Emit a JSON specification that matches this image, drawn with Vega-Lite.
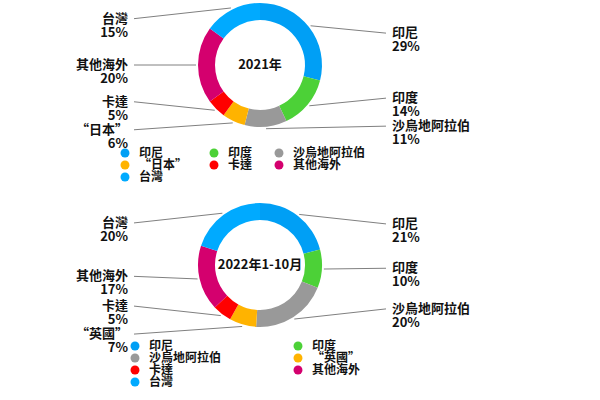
{
  "$schema": "https://vega.github.io/schema/vega-lite/v6.json",
  "description": "Two donut charts, 2021 and 2022 Jan-Oct shares by source",
  "background": "white",
  "padding": {"left": 5, "top": 0, "right": 5, "bottom": 5},
  "bounds": "flush",
  "spacing": 70,
  "config": {
    "font": "Noto Sans CJK TC",
    "view": {"stroke": null},
    "text": {"fontWeight": "bold"},
    "legend": {"labelFont": "Noto Sans CJK TC", "labelFontSize": 12, "labelFontWeight": "bold", "labelColor": "#111", "symbolType": "circle", "symbolSize": 80, "symbolStrokeWidth": 0, "rowPadding": 0, "labelOffset": 8, "direction": "horizontal"}
  },
  "resolve": {
    "scale": {"color": "independent", "x": "independent", "y": "independent", "theta": "independent"},
    "legend": {"color": "independent"}
  },
  "vconcat": [
    {
      "width": 510,
      "height": 130,
      "data": {"values": [
        {"i": 1, "k": "印尼", "v": 29},
        {"i": 2, "k": "印度", "v": 14},
        {"i": 3, "k": "沙烏地阿拉伯", "v": 11},
        {"i": 4, "k": "“日本”", "v": 6},
        {"i": 5, "k": "卡達", "v": 5},
        {"i": 6, "k": "其他海外", "v": 20},
        {"i": 7, "k": "台灣", "v": 15}
      ]},
      "transform": [
        {"stack": "v", "groupby": [], "sort": [{"field": "i", "order": "ascending"}], "as": ["v0", "v1"]},
        {"calculate": "(datum.v0 + datum.v1) / 2", "as": "mid"},
        {"calculate": "2 * PI * datum.mid / 100", "as": "a"},
        {"calculate": "datum.mid < 50 ? 1 : -1", "as": "side"},
        {"calculate": "sin(datum.a) * 64", "as": "ex"},
        {"calculate": "-cos(datum.a) * 64", "as": "ey"},
        {"calculate": "-cos(datum.a) * 52", "as": "ly"},
        {"window": [{"op": "lag", "field": "ly", "as": "prev"}], "groupby": ["side"], "sort": [{"field": "ly", "order": "ascending"}]},
        {"calculate": "isValid(datum.prev) ? max(datum.ly, datum.prev + 28) : datum.ly", "as": "ly2"},
        {"calculate": "datum.side * 126", "as": "lx"},
        {"calculate": "datum.side * 132", "as": "tx"},
        {"calculate": "datum.k + '\\n' + datum.v + '%'", "as": "label"}
      ],
      "layer": [
        {
          "mark": {"type": "rule", "color": "#808080", "strokeWidth": 1},
          "encoding": {
            "x": {"field": "ex", "type": "quantitative", "scale": {"domain": [-255, 255]}, "axis": null},
            "y": {"field": "ey", "type": "quantitative", "scale": {"domain": [-65, 65], "reverse": true}, "axis": null},
            "x2": {"field": "lx"},
            "y2": {"field": "ly2"}
          }
        },
        {
          "mark": {"type": "arc", "outerRadius": 62, "innerRadius": 45},
          "encoding": {
            "theta": {"field": "v0", "type": "quantitative", "scale": {"domain": [0, 100]}},
            "theta2": {"field": "v1"},
            "color": {
              "field": "k",
              "type": "nominal",
              "sort": null,
              "scale": {
                "domain": ["印尼", "印度", "沙烏地阿拉伯", "“日本”", "卡達", "其他海外", "台灣"],
                "range": ["#009ff5", "#4cd137", "#999999", "#ffb300", "#ff0000", "#d4006e", "#00aaff"]
              },
              "legend": {"title": null, "orient": "none", "legendX": 114, "legendY": 147, "columns": 3, "columnPadding": 20}
            }
          }
        },
        {
          "transform": [{"filter": "datum.side > 0"}],
          "mark": {"type": "text", "align": "left", "baseline": "middle", "lineBreak": "\n", "fontSize": 13, "lineHeight": 14, "color": "#111"},
          "encoding": {
            "x": {"field": "tx", "type": "quantitative", "scale": {"domain": [-255, 255]}, "axis": null},
            "y": {"field": "ly2", "type": "quantitative", "scale": {"domain": [-65, 65], "reverse": true}, "axis": null},
            "text": {"field": "label"}
          }
        },
        {
          "transform": [{"filter": "datum.side < 0"}],
          "mark": {"type": "text", "align": "right", "baseline": "middle", "lineBreak": "\n", "fontSize": 13, "lineHeight": 14, "color": "#111"},
          "encoding": {
            "x": {"field": "tx", "type": "quantitative", "scale": {"domain": [-255, 255]}, "axis": null},
            "y": {"field": "ly2", "type": "quantitative", "scale": {"domain": [-65, 65], "reverse": true}, "axis": null},
            "text": {"field": "label"}
          }
        },
        {
          "data": {"values": [{"t": "2021年"}]},
          "mark": {"type": "text", "fontSize": 13, "color": "#111"},
          "encoding": {"text": {"field": "t"}}
        }
      ]
    },
    {
      "width": 510,
      "height": 130,
      "data": {"values": [
        {"i": 1, "k": "印尼", "v": 21},
        {"i": 2, "k": "印度", "v": 10},
        {"i": 3, "k": "沙烏地阿拉伯", "v": 20},
        {"i": 4, "k": "“英國”", "v": 7},
        {"i": 5, "k": "卡達", "v": 5},
        {"i": 6, "k": "其他海外", "v": 17},
        {"i": 7, "k": "台灣", "v": 20}
      ]},
      "transform": [
        {"stack": "v", "groupby": [], "sort": [{"field": "i", "order": "ascending"}], "as": ["v0", "v1"]},
        {"calculate": "(datum.v0 + datum.v1) / 2", "as": "mid"},
        {"calculate": "2 * PI * datum.mid / 100", "as": "a"},
        {"calculate": "datum.mid < 50 ? 1 : -1", "as": "side"},
        {"calculate": "sin(datum.a) * 64", "as": "ex"},
        {"calculate": "-cos(datum.a) * 64", "as": "ey"},
        {"calculate": "-cos(datum.a) * 52", "as": "ly"},
        {"window": [{"op": "lag", "field": "ly", "as": "prev"}], "groupby": ["side"], "sort": [{"field": "ly", "order": "ascending"}]},
        {"calculate": "isValid(datum.prev) ? max(datum.ly, datum.prev + 28) : datum.ly", "as": "ly2"},
        {"calculate": "datum.side * 126", "as": "lx"},
        {"calculate": "datum.side * 132", "as": "tx"},
        {"calculate": "datum.k + '\\n' + datum.v + '%'", "as": "label"}
      ],
      "layer": [
        {
          "mark": {"type": "rule", "color": "#808080", "strokeWidth": 1},
          "encoding": {
            "x": {"field": "ex", "type": "quantitative", "scale": {"domain": [-255, 255]}, "axis": null},
            "y": {"field": "ey", "type": "quantitative", "scale": {"domain": [-65, 65], "reverse": true}, "axis": null},
            "x2": {"field": "lx"},
            "y2": {"field": "ly2"}
          }
        },
        {
          "mark": {"type": "arc", "outerRadius": 62, "innerRadius": 45},
          "encoding": {
            "theta": {"field": "v0", "type": "quantitative", "scale": {"domain": [0, 100]}},
            "theta2": {"field": "v1"},
            "color": {
              "field": "k",
              "type": "nominal",
              "sort": null,
              "scale": {
                "domain": ["印尼", "印度", "沙烏地阿拉伯", "“英國”", "卡達", "其他海外", "台灣"],
                "range": ["#009ff5", "#4cd137", "#999999", "#ffb300", "#ff0000", "#d4006e", "#00aaff"]
              },
              "legend": {"title": null, "orient": "none", "legendX": 124, "legendY": 140, "columns": 2, "columnPadding": 70}
            }
          }
        },
        {
          "transform": [{"filter": "datum.side > 0"}],
          "mark": {"type": "text", "align": "left", "baseline": "middle", "lineBreak": "\n", "fontSize": 13, "lineHeight": 14, "color": "#111"},
          "encoding": {
            "x": {"field": "tx", "type": "quantitative", "scale": {"domain": [-255, 255]}, "axis": null},
            "y": {"field": "ly2", "type": "quantitative", "scale": {"domain": [-65, 65], "reverse": true}, "axis": null},
            "text": {"field": "label"}
          }
        },
        {
          "transform": [{"filter": "datum.side < 0"}],
          "mark": {"type": "text", "align": "right", "baseline": "middle", "lineBreak": "\n", "fontSize": 13, "lineHeight": 14, "color": "#111"},
          "encoding": {
            "x": {"field": "tx", "type": "quantitative", "scale": {"domain": [-255, 255]}, "axis": null},
            "y": {"field": "ly2", "type": "quantitative", "scale": {"domain": [-65, 65], "reverse": true}, "axis": null},
            "text": {"field": "label"}
          }
        },
        {
          "data": {"values": [{"t": "2022年1-10月"}]},
          "mark": {"type": "text", "fontSize": 13, "color": "#111"},
          "encoding": {"text": {"field": "t"}}
        }
      ]
    }
  ]
}
